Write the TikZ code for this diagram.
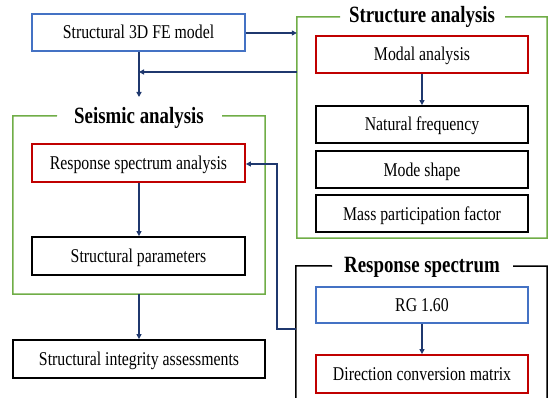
\documentclass[tikz,border=0pt]{standalone}
\usepackage{fontspec}
\setmainfont{Liberation Serif}[FakeStretch=0.81]
\usetikzlibrary{arrows.meta}
\definecolor{bxblue}{RGB}{68,114,196}
\definecolor{bxred}{RGB}{192,0,0}
\definecolor{bxgreen}{RGB}{112,173,71}
\definecolor{navy}{RGB}{31,56,110}
\tikzset{
  box/.style={draw, line width=1.8pt, minimum width=212pt, minimum height=37pt, inner sep=0pt,
    font=\fontsize{19.5}{21}\selectfont, text height=14.5pt, text depth=1.5pt},
  bluebox/.style={box, draw=bxblue},
  redbox/.style={box, draw=bxred},
  blackbox/.style={box, draw=black},
  grp/.style={draw=none, minimum width=#1, inner sep=0pt},
  title/.style={font=\fontsize{23.3}{25}\selectfont\bfseries, inner sep=0pt, anchor=base},
  glinegreen/.style={draw=bxgreen, line width=1.5pt},
  glineblack/.style={draw=black, line width=1.5pt},
  conn/.style={draw=navy, line width=1.4pt, -{Triangle[length=5pt,width=5pt]}}
}
\begin{document}
\begin{tikzpicture}[x=1pt,y=-1pt]
\useasboundingbox (0,0) rectangle (548,398);
\clip (0,0) rectangle (548,398);

% groups (invisible frames)
\node[grp=252pt, minimum height=178pt] (seis) at (139,205) {};
\node[grp=250pt, minimum height=221pt] (stru) at (422,127.5) {};
\node[grp=251pt, minimum height=160pt] (resp) at (421.5,346) {};

% group borders
\draw[glinegreen] (222,116) -| (seis.south east) -| (seis.north west) -- (57,116);
\draw[glinegreen] (505,17) -| (stru.south east) -| (stru.north west) -- (340,17);
\draw[glineblack] (513,266) -| (resp.south east) -| (resp.north west) -- (332,266);

% titles
\node[title] (seistitle) at (139,123.5) {Seismic analysis};
\node[title] (strutitle) at (422,23) {Structure analysis};
\node[title] (resptitle) at (422,272) {Response spectrum};

% boxes
\node[bluebox, minimum width=213pt] (fe) at (138.5,32.5) {Structural 3D FE model};
\node[redbox, minimum width=213pt, minimum height=38pt] (rsa) at (138.5,163) {Response spectrum analysis};
\node[blackbox, minimum width=213pt, minimum height=38pt] (sp) at (138.5,256) {Structural parameters};
\node[blackbox, minimum width=252pt, minimum height=38pt] (sia) at (139,359) {Structural integrity assessments};

\node[redbox] (modal) at (422,54.5) {Modal analysis};
\node[blackbox] (nf) at (422,124.5) {Natural frequency};
\node[blackbox] (ms) at (422,169.5) {Mode shape};
\node[blackbox] (mpf) at (422,213.5) {Mass participation factor};

\node[bluebox, minimum height=36pt] (rg) at (422,305) {RG 1.60};
\node[redbox, minimum height=38pt] (dcm) at (422,374) {Direction conversion matrix};

% connectors
\coordinate (feend) at (139,97);
\coordinate (retjoin) at (139,72);
\draw[conn] (fe.east |- 0,33) -- (stru.west |- 0,33);
\draw[conn] (fe.south -| 139,0) -- (feend);
\draw[conn] (stru.west |- 0,72) -- (retjoin);
\draw[conn] (rsa.south -| 139,0) -- (sp.north -| 139,0);
\draw[conn] (seis.south) -- (sia.north);
\draw[conn] (modal.south) -- (nf.north);
\draw[conn] (rg.south) -- (dcm.north);
\draw[conn] (resp.west |- 0,329) -- (277,329) |- (rsa.east |- 0,164);
\end{tikzpicture}
\end{document}
